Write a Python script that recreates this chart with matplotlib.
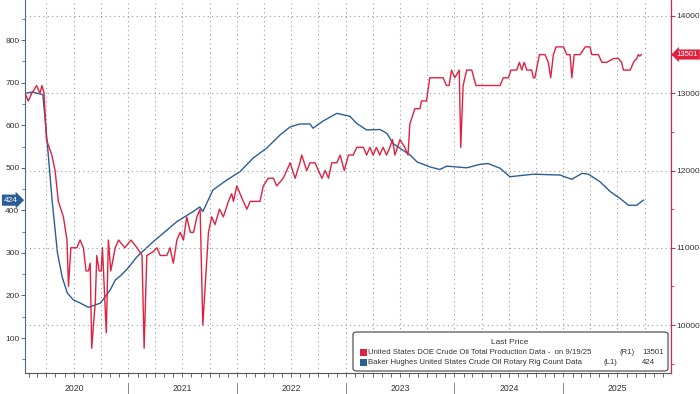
import matplotlib
matplotlib.use("Agg")
import matplotlib.pyplot as plt
import matplotlib.dates as mdates
import pandas as pd
from matplotlib.patches import FancyBboxPatch, Rectangle
from matplotlib.lines import Line2D
from matplotlib.transforms import blended_transform_factory

plt.rcParams['font.family'] = ['Liberation Sans', 'DejaVu Sans']

# US crude oil production, weekly (thousand b/d) - right axis
prod_dates = [
    '2020-01-20', '2020-01-31', '2020-02-12', '2020-02-28', '2020-03-10', '2020-03-17', '2020-03-24',
    '2020-04-01', '2020-04-19', '2020-04-30', '2020-05-11', '2020-05-28', '2020-06-09', '2020-06-14',
    '2020-06-22', '2020-07-12', '2020-07-23', '2020-08-03', '2020-08-12', '2020-08-20', '2020-08-26',
    '2020-08-31', '2020-09-12', '2020-09-17', '2020-09-25', '2020-10-02', '2020-10-06', '2020-10-12',
    '2020-10-19', '2020-10-26', '2020-11-03', '2020-11-18', '2020-11-29', '2020-12-20', '2021-01-10',
    '2021-01-30', '2021-02-16', '2021-02-23', '2021-03-04', '2021-03-26', '2021-04-07', '2021-04-18',
    '2021-05-10', '2021-05-21', '2021-06-01', '2021-06-13', '2021-06-24', '2021-07-05', '2021-07-16',
    '2021-07-28', '2021-08-08', '2021-08-19', '2021-08-30', '2021-09-08', '2021-09-27', '2021-10-08',
    '2021-10-19', '2021-11-03', '2021-11-16', '2021-12-03', '2021-12-14', '2021-12-20', '2021-12-31',
    '2022-01-11', '2022-01-22', '2022-02-03', '2022-02-14', '2022-03-19', '2022-03-30', '2022-04-16',
    '2022-05-03', '2022-05-14', '2022-06-05', '2022-06-17', '2022-06-28', '2022-07-15', '2022-07-31',
    '2022-08-06', '2022-08-23', '2022-09-03', '2022-09-20', '2022-10-01', '2022-10-13', '2022-10-24',
    '2022-11-04', '2022-11-15', '2022-12-02', '2022-12-13', '2022-12-27', '2023-01-10', '2023-01-26',
    '2023-02-07', '2023-03-01', '2023-03-12', '2023-03-23', '2023-04-03', '2023-04-14', '2023-04-25',
    '2023-05-06', '2023-05-18', '2023-05-29', '2023-06-07', '2023-06-15', '2023-07-02', '2023-07-18',
    '2023-07-29', '2023-08-04', '2023-08-21', '2023-09-07', '2023-09-12', '2023-09-29', '2023-10-10',
    '2023-11-24', '2023-12-05', '2023-12-14', '2023-12-22', '2024-01-02', '2024-01-17', '2024-01-22',
    '2024-01-30', '2024-02-11', '2024-02-28', '2024-03-13', '2024-06-02', '2024-06-13', '2024-06-30',
    '2024-07-09', '2024-07-28', '2024-08-06', '2024-08-14', '2024-08-22', '2024-08-31', '2024-09-16',
    '2024-09-22', '2024-09-27', '2024-10-12', '2024-10-31', '2024-11-11', '2024-11-19', '2024-11-28',
    '2024-12-07', '2025-01-01', '2025-01-12', '2025-01-23', '2025-01-29', '2025-02-06', '2025-02-26',
    '2025-03-15', '2025-03-31', '2025-04-06', '2025-04-28', '2025-05-10', '2025-05-26', '2025-06-18',
    '2025-07-04', '2025-07-15', '2025-07-21', '2025-08-01', '2025-08-13', '2025-08-24', '2025-09-04',
    '2025-09-09', '2025-09-14', '2025-09-19',
]
prod_vals = [
    13000, 12900, 13000, 13100, 13000, 13100, 13000,
    12400, 12200, 12000, 11600, 11400, 11100, 10500,
    11000, 11000, 11100, 11000, 10700, 10700, 10800,
    9700, 10300, 10900, 10700, 10700, 11000, 10500,
    9900, 11100, 10700, 11000, 11100, 11000, 11100,
    11000, 10900, 9700, 10900, 10950, 11000, 10900,
    10900, 11000, 10800, 11100, 11200, 11100, 11400,
    11200, 11200, 11400, 11500, 10000, 11200, 11400,
    11300, 11500, 11400, 11600, 11700, 11600, 11800,
    11700, 11600, 11500, 11600, 11600, 11800, 11900,
    11900, 11800, 11900, 12000, 12100, 11900, 12100,
    12200, 12000, 12100, 12100, 12000, 11900, 12000,
    11900, 12100, 12100, 12200, 12000, 12200, 12200,
    12300, 12300, 12200, 12300, 12200, 12300, 12200,
    12300, 12200, 12300, 12400, 12200, 12400, 12300,
    12200, 12600, 12800, 12800, 12900, 12900, 13200,
    13200, 13100, 13100, 13300, 13200, 13300, 12300,
    13100, 13300, 13300, 13100, 13100, 13200, 13200,
    13300, 13300, 13400, 13300, 13400, 13300, 13300,
    13200, 13200, 13500, 13500, 13400, 13200, 13500,
    13600, 13600, 13500, 13500, 13200, 13500, 13500,
    13600, 13600, 13500, 13500, 13400, 13400, 13450,
    13450, 13400, 13300, 13300, 13300, 13400, 13450,
    13500, 13480, 13501,
]

# Baker Hughes US crude oil rotary rig count - left axis
rig_dates = [
    '2020-01-20', '2020-02-14', '2020-03-20', '2020-04-03', '2020-04-20', '2020-05-08', '2020-05-24',
    '2020-06-10', '2020-06-30', '2020-07-24', '2020-08-20', '2020-09-29', '2020-11-01', '2020-11-18',
    '2020-12-05', '2020-12-28', '2021-01-30', '2021-03-25', '2021-06-12', '2021-08-06', '2021-08-29',
    '2021-09-08', '2021-10-12', '2021-11-27', '2022-01-11', '2022-02-24', '2022-04-10', '2022-05-25',
    '2022-06-28', '2022-07-31', '2022-09-03', '2022-09-13', '2022-10-17', '2022-12-02', '2023-01-15',
    '2023-02-07', '2023-03-12', '2023-04-26', '2023-05-19', '2023-06-09', '2023-07-02', '2023-08-05',
    '2023-08-28', '2023-10-11', '2023-11-13', '2023-12-06', '2024-02-11', '2024-03-26', '2024-04-23',
    '2024-06-02', '2024-07-05', '2024-09-22', '2024-12-20', '2025-01-29', '2025-03-04', '2025-03-26',
    '2025-05-04', '2025-06-07', '2025-07-10', '2025-08-07', '2025-09-04', '2025-09-26',
]
rig_vals = [
    675, 678, 672, 565, 424, 300, 243,
    206, 190, 182, 172, 182, 213, 236,
    246, 262, 291, 326, 373, 397, 408,
    397, 448, 471, 491, 523, 546, 577,
    596, 603, 603, 593, 610, 628, 621,
    604, 589, 590, 581, 557, 546, 530,
    514, 502, 496, 504, 500, 508, 510,
    499, 479, 485, 483, 473, 487, 485,
    467, 444, 428, 412, 412, 424,
]

years = ['2020', '2021', '2022', '2023', '2024', '2025']

RED = '#e0213f'
BLUE = '#2c5d97'
GRID = '#9a9a9a'
TXT = '#333333'

fig = plt.figure(figsize=(7, 3.94), dpi=100)
ax = fig.add_axes([0.0357, 0.0533, 0.9229, 0.9528])
ax2 = ax.twinx()

ax.plot(pd.to_datetime(rig_dates), rig_vals, color=BLUE, lw=1.0, zorder=3)
ax2.plot(pd.to_datetime(prod_dates), prod_vals, color=RED, lw=1.0, zorder=3)

ax.set_xlim(pd.Timestamp('2020-01-20'), pd.Timestamp('2025-12-28'))
ax.set_ylim(17.8, 900)
ax2.set_ylim(9379, 14238)

# x axis: quarterly grid, monthly ticks
ax.xaxis.set_major_locator(mdates.MonthLocator(bymonth=[1, 4, 7, 10]))
ax.xaxis.set_minor_locator(mdates.MonthLocator())
ax.xaxis.set_major_formatter(plt.NullFormatter())
ax.tick_params(axis='x', which='both', direction='out', length=3, width=0.6, color='#555555')
ax.grid(axis='x', which='major', color=GRID, linestyle=(0, (1, 3)), lw=0.8)

# left axis
ax.set_yticks(range(100, 801, 100))
ax.set_yticks(range(50, 851, 50), minor=True)
ax.tick_params(axis='y', which='major', length=3, width=0.7, color='#4a6a8a', labelsize=6, labelcolor=TXT, pad=1)
ax.tick_params(axis='y', which='minor', length=2, width=0.6, color='#4a6a8a')

# right axis
ax2.set_yticks(range(10000, 14001, 1000))
ax2.set_yticks(range(9500, 14001, 500), minor=True)
ax2.tick_params(axis='y', which='major', length=3, width=0.7, color=RED, labelsize=6, labelcolor=TXT, pad=1)
ax2.tick_params(axis='y', which='minor', length=2, width=0.6, color=RED)
ax2.grid(axis='y', which='major', color=GRID, linestyle=(0, (1, 3)), lw=0.8)
ax2.set_axisbelow(True)

for a in (ax, ax2):
    a.spines['top'].set_visible(False)
ax.spines['left'].set_color('#4a6a8a')
ax.spines['bottom'].set_color('#555555')
ax2.spines['right'].set_color(RED)
ax2.spines['left'].set_visible(False)
ax2.spines['bottom'].set_visible(False)
for s in ('left', 'bottom'):
    ax.spines[s].set_linewidth(0.8)
ax2.spines['right'].set_linewidth(0.8)

# year labels and separators below the axis
trans = blended_transform_factory(ax.transData, ax.transAxes)
for y in years:
    mid = pd.Timestamp(y + '-07-02')
    ax.text(mid, -0.04, y, transform=trans, ha='center', va='center', fontsize=6.2, color=TXT)
    if y != '2020':
        x0 = mdates.date2num(pd.Timestamp(y + '-01-01'))
        ax.add_line(Line2D([x0, x0], [-0.027, -0.06], transform=trans, color='#888888', lw=0.7, clip_on=False))

# last value tags
tl = blended_transform_factory(ax.transAxes, ax.transData)
ax.text(-0.011, rig_vals[-1], str(rig_vals[-1]), transform=tl, ha='right', va='center', fontsize=6,
        color='white', bbox=dict(boxstyle='rarrow,pad=0.25', fc=BLUE, ec='none'), zorder=6, clip_on=False)
tr = blended_transform_factory(ax2.transAxes, ax2.transData)
ax2.text(1.009, prod_vals[-1], str(prod_vals[-1]), transform=tr, ha='left', va='center', fontsize=5.6,
         color='white', bbox=dict(boxstyle='larrow,pad=0.2', fc=RED, ec='none'), zorder=6, clip_on=False)

# legend box
W, H = 700.0, 394.0
def fx(x):
    return x / W
def fy(y):
    return 1 - y / H

box = FancyBboxPatch((fx(353), fy(371)), fx(668) - fx(353), fy(332) - fy(371),
                     boxstyle='round,pad=0,rounding_size=0.006', transform=fig.transFigure,
                     fc='white', ec='#555555', lw=0.9, zorder=10)
fig.patches.append(box)
fs = 5.6
fig.text(fx(510), fy(342), 'Last Price', ha='center', va='center', fontsize=6, color=TXT, zorder=11)
rows = [
    (RED, 'United States DOE Crude Oil Total Production Data -  on 9/19/25', '(R1)', str(prod_vals[-1]), 352),
    (BLUE, 'Baker Hughes United States Crude Oil Rotary Rig Count Data', '(L1)', str(rig_vals[-1]), 362.5),
]
for col, label, side, last, ypix in rows:
    fig.patches.append(Rectangle((fx(359.5), fy(ypix + 3.5)), fx(7), 7 / H, transform=fig.transFigure,
                                 fc=col, ec='none', zorder=11))
    fig.text(fx(368), fy(ypix), label, ha='left', va='center', fontsize=fs, color=TXT, zorder=11)
    fig.text(fx(620 if side == '(R1)' else 604), fy(ypix), side, ha='left', va='center', fontsize=fs, color=TXT, zorder=11)
    fig.text(fx(642), fy(ypix), last, ha='left', va='center', fontsize=fs, color=TXT, zorder=11)

fig.savefig('out.png', dpi=100, facecolor='white')
